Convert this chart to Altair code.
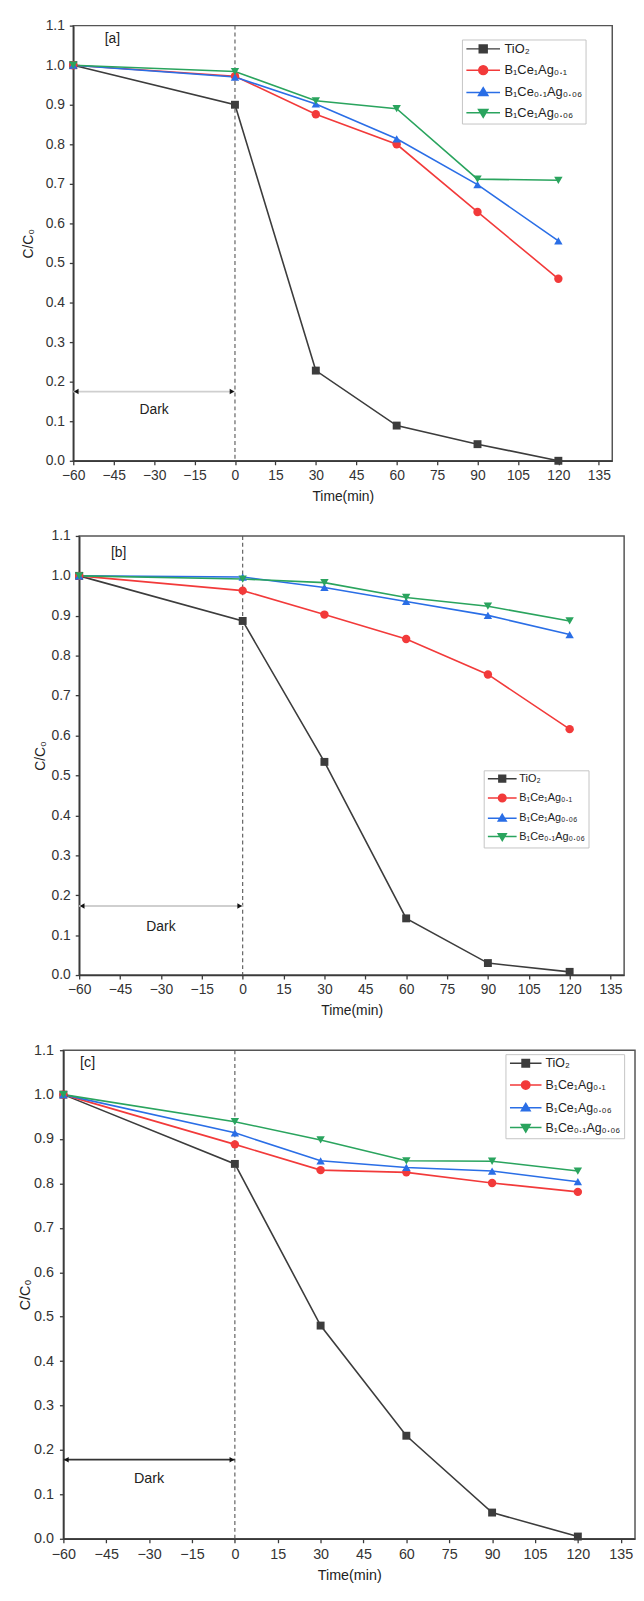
import altair as alt
import pandas as pd

# ---------------- data ----------------
time_min = [-60, 0, 30, 60, 90, 120]

# panel [a]
a_tio2 = [1.0, 0.900, 0.228, 0.089, 0.042, 0.000]
a_ag01 = [1.0, 0.972, 0.876, 0.800, 0.629, 0.460]
a_ce01_ag006 = [1.0, 0.970, 0.902, 0.814, 0.698, 0.556]
a_ce1_ag006 = [1.0, 0.984, 0.910, 0.890, 0.712, 0.709]
a_labels = ["TiO₂", "B₁Ce₁Ag₀.₁", "B₁Ce₀.₁Ag₀.₀₆", "\u00a0B₁Ce₁Ag₀.₀₆"]

# panel [b]
b_tio2 = [1.0, 0.887, 0.534, 0.142, 0.030, 0.008]
b_ag01 = [1.0, 0.963, 0.903, 0.842, 0.753, 0.616]
b_ce1_ag006 = [1.0, 0.997, 0.971, 0.936, 0.901, 0.853]
b_ce01_ag006 = [1.0, 0.992, 0.983, 0.946, 0.924, 0.887]
b_labels = ["TiO₂", "B₁Ce₁Ag₀.₁", "\u00a0B₁Ce₁Ag₀.₀₆", "B₁Ce₀.₁Ag₀.₀₆"]

# panel [c]
c_tio2 = [1.0, 0.844, 0.480, 0.232, 0.059, 0.005]
c_ag01 = [1.0, 0.888, 0.830, 0.825, 0.801, 0.781]
c_ce1_ag006 = [1.0, 0.914, 0.851, 0.836, 0.828, 0.804]
c_ce01_ag006 = [1.0, 0.939, 0.898, 0.851, 0.850, 0.828]
c_labels = ["TiO₂", "B₁Ce₁Ag₀.₁", "\u00a0B₁Ce₁Ag₀.₀₆", "B₁Ce₀.₁Ag₀.₀₆"]

x_ticks = [-60, -45, -30, -15, 0, 15, 30, 45, 60, 75, 90, 105, 120, 135]
y_ticks = [round(i * 0.1, 1) for i in range(12)]

dark_start = -60
dark_end = 0
dark_text = "Dark"

# annotation anchor values (data units)
a_arrow_y, a_dark_y, a_tag = 0.175, 0.128, ("[a]", -45.5, 1.066)
b_arrow_y, b_dark_y, b_tag = 0.173, 0.121, ("[b]", -45.5, 1.056)
c_arrow_y, c_dark_y, c_tag = 0.178, 0.135, ("[c]", -51.5, 1.071)

# ---------------- styling ----------------
keys = ["s0", "s1", "s2", "s3"]
colors = ["#3c3c3c", "#f23a3a", "#2a6ee6", "#2aa45e"]
shapes = ["square", "circle", "triangle-up", "triangle-down"]
legend_paths = [
    "M-1,0H5.8M1.6,-0.8H3.2V0.8H1.6Z",
    "M-1,0H5.8M3.3,0A0.9,0.9,0,1,1,1.5,0A0.9,0.9,0,1,1,3.3,0Z",
    "M-1,0H5.8M2.4,-0.95L3.35,0.65H1.45Z",
    "M-1,0H5.8M2.4,0.95L3.35,-0.65H1.45Z",
]
FONT = "Liberation Sans"


def panel(series, labels, arrow_y, dark_y, tag, w, h, fs, ylab_pad, ytitle_pad,
          xlab_pad, xtitle_pad, leg_x, leg_y, leg_fs, leg_size, leg_off, leg_row,
          arrow_color):
    rows = []
    for k, vals in zip(keys, series):
        for t, v in zip(time_min, vals):
            rows.append({"t": t, "v": v, "s": k})
    df = pd.DataFrame(rows)

    xs = alt.Scale(domain=[-60, 140], nice=False, zero=False)
    ys = alt.Scale(domain=[0, 1.1], nice=False, zero=False)
    X = alt.X("t:Q", scale=xs, axis=alt.Axis(
        values=x_ticks, title="Time(min)", labelFontSize=fs, titleFontSize=fs,
        labelPadding=xlab_pad, titlePadding=xtitle_pad, labelFlush=False, grid=False))
    Y = alt.Y("v:Q", scale=ys, axis=alt.Axis(
        values=y_ticks, format=".1f", title="C/C₀", labelFontSize=fs, titleFontSize=fs,
        labelPadding=ylab_pad, titlePadding=ytitle_pad, labelFlush=False, grid=False))
    col = alt.Color("s:N", scale=alt.Scale(domain=keys, range=colors), legend=None)

    base = alt.Chart(df)
    layers = []

    # dark-period marker: dashed line, arrow, text
    vline = alt.Chart(pd.DataFrame({"t": [dark_end]})).mark_rule(
        color="#555555", strokeDash=[4, 3], strokeWidth=1.1).encode(x=X)
    layers.append(vline)
    arr_df = pd.DataFrame({"t": [dark_start], "t2": [dark_end], "v": [arrow_y]})
    layers.append(alt.Chart(arr_df).mark_rule(color=arrow_color, strokeWidth=1.8).encode(
        x=X, x2="t2:Q", y=Y))
    layers.append(alt.Chart(pd.DataFrame({"t": [dark_start], "v": [arrow_y]})).mark_point(
        shape="triangle-left", filled=True, color="#111111", size=30, xOffset=3, opacity=1
    ).encode(x=X, y=Y))
    layers.append(alt.Chart(pd.DataFrame({"t": [dark_end], "v": [arrow_y]})).mark_point(
        shape="triangle-right", filled=True, color="#111111", size=30, xOffset=-3, opacity=1
    ).encode(x=X, y=Y))
    layers.append(alt.Chart(pd.DataFrame({"t": [(dark_start + dark_end) / 2], "v": [dark_y],
                                          "txt": [dark_text]})).mark_text(
        font=FONT, fontSize=fs, color="#222222").encode(x=X, y=Y, text="txt:N"))
    layers.append(alt.Chart(pd.DataFrame({"t": [tag[1]], "v": [tag[2]], "txt": [tag[0]]})).mark_text(
        font=FONT, fontSize=fs, color="#222222").encode(x=X, y=Y, text="txt:N"))

    # data lines and markers
    layers.append(base.mark_line(strokeWidth=1.6).encode(x=X, y=Y, color=col, detail="s:N"))
    for k, sh in zip(keys, shapes):
        layers.append(base.transform_filter(alt.datum.s == k).mark_point(
            shape=sh, filled=True, size=64 if sh == "square" else 72, opacity=1
        ).encode(x=X, y=Y, color=col))

    # legend-only layer (no rows drawn)
    leg = alt.Legend(title=None, orient="none", legendX=leg_x, legendY=leg_y,
                     labelFont=FONT, labelFontSize=leg_fs, labelColor="#222222",
                     labelOffset=leg_off, rowPadding=leg_row, padding=3,
                     strokeColor="#c4c4c4", symbolStrokeWidth=1.5,
                     symbolSize=leg_size)
    layers.append(base.transform_filter("false").mark_point(
        filled=True, size=leg_size, strokeWidth=1.5, opacity=1).encode(
        x=X, y=Y,
        shape=alt.Shape("lab:N", scale=alt.Scale(domain=labels, range=legend_paths), legend=leg),
        fill=alt.Fill("lab:N", scale=alt.Scale(domain=labels, range=colors), legend=leg),
        stroke=alt.Stroke("lab:N", scale=alt.Scale(domain=labels, range=colors), legend=leg),
    ))

    return alt.layer(*layers).properties(
        width=w, height=h,
        view=alt.ViewBackground(stroke="#555555", strokeWidth=1.5),
    )


def spacer(w, h):
    return alt.Chart(pd.DataFrame({"z": [0]})).mark_point(opacity=0, size=1).encode(
        x=alt.value(0), y=alt.value(0)).properties(
        width=w, height=h, view=alt.ViewBackground(stroke="transparent"))


IND = dict(color="independent", fill="independent", stroke="independent", shape="independent")


def row(sp, h, p):
    return alt.hconcat(spacer(sp, h), p, spacing=0, bounds="flush").resolve_scale(**IND)


pa = panel([a_tio2, a_ag01, a_ce01_ag006, a_ce1_ag006], a_labels, a_arrow_y, a_dark_y, a_tag,
           545, 440, 14, 5, 10, 4, 7, 393, 14, 13, 100, 27, 6.5, "#cfcfcf")
pb = panel([b_tio2, b_ag01, b_ce1_ag006, b_ce01_ag006], b_labels, b_arrow_y, b_dark_y, b_tag,
           551, 444, 14, 5, 4, 4, 7, 409, 237, 11, 73, 22, 5.5, "#cfcfcf")
pc = panel([c_tio2, c_ag01, c_ce1_ag006, c_ce01_ag006], c_labels, c_arrow_y, c_dark_y, c_tag,
           578, 494, 14.5, 6, 1, 5, 8, 447, 4, 12.5, 88, 25, 7, "#333333")

# flush rows have zero layout height, so the spacing is the full row pitch
inner = alt.vconcat(row(26, 444, pb), row(10, 494, pc), spacing=520, bounds="flush").resolve_scale(**IND)
chart = alt.vconcat(row(20, 440, pa), inner, spacing=516, bounds="flush").resolve_scale(**IND).properties(
    padding={"left": 9, "top": 1, "right": 0, "bottom": 0}
).configure(font=FONT).configure_view(stroke="transparent").configure_axis(
    domainColor="#3a3a3a", domainWidth=1.6, tickColor="#3a3a3a", tickWidth=1.3, tickSize=4,
    labelColor="#333333", titleColor="#222222", titleFontWeight="normal",
    labelFont=FONT, titleFont=FONT,
)

chart.save("out.html", embed_options={"renderer": "svg", "actions": False})
